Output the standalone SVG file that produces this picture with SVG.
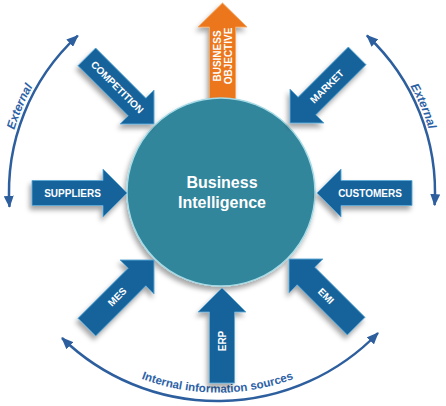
<svg xmlns="http://www.w3.org/2000/svg" xmlns:xlink="http://www.w3.org/1999/xlink" width="446" height="406" viewBox="0 0 446 406">
<style>
.arr{fill:#12649C;stroke:#5FA8D6;stroke-width:0.9;stroke-linejoin:miter}
.org{fill:#EC761E;stroke:#F6A65E;stroke-width:0.9}
.lbl{font-family:"Liberation Sans",Arial,sans-serif;font-weight:bold;font-size:10px;fill:#fff;text-anchor:middle}
.arc{fill:none;stroke:#2D5E9E;stroke-width:2.5;marker-start:url(#ah);marker-end:url(#ah)}
.side{font-family:"Liberation Sans",Arial,sans-serif;font-weight:bold;fill:#2D62A6}
</style>
<defs>
<filter id="sh" x="-40%" y="-40%" width="180%" height="180%">
<feDropShadow dx="-2" dy="4" stdDeviation="2.5" flood-color="#000" flood-opacity="0.35"/>
</filter>
<polygon id="blue" points="0,0 -24,-24 -24,-12.5 -95,-12.5 -95,12.5 -24,12.5 -24,24"/>
<polygon id="orange" points="0,0 -24,-24.5 -24,-13 -100,-13 -100,13 -24,13 -24,24.5"/>
<marker id="ah" viewBox="0 0 12 10" refX="11" refY="5" markerWidth="12" markerHeight="10" markerUnits="userSpaceOnUse" orient="auto-start-reverse">
<path d="M0,0 L12,5 L0,10 z" fill="#2D5E9E"/>
</marker>
<path id="tpL" d="M 9.7,236.9 A 217 217 0 0 1 106.5,8.8"/>
<path id="tpR" d="M 336,8 A 217 217 0 0 1 433.3,237.1"/>
<path id="tpB" d="M 65.5,329.7 A 215 215 0 0 0 369.5,329.7"/>
</defs>
<rect width="446" height="406" fill="#fff"/>

<g id="connectors">
<path class="arc" d="M 9.5,206.8 A 212 212 0 0 1 77.8,35.7"/>
<path class="arc" d="M 366.9,35.5 A 214 214 0 0 1 434.6,205.1"/>
<path class="arc" d="M 62,338 A 223.3 223.3 0 0 0 378,333"/>
<text class="side" font-size="12" font-style="italic"><textPath href="#tpL" startOffset="50%" text-anchor="middle">External</textPath></text>
<text class="side" font-size="12" font-style="italic"><textPath href="#tpR" startOffset="50%" text-anchor="middle">External</textPath></text>
<text class="side" font-size="11.5"><textPath href="#tpB" startOffset="50%" text-anchor="middle">Internal information sources</textPath></text>
</g>

<g id="objective">
<g filter="url(#sh)"><use href="#orange" class="org" transform="translate(222.5,3) rotate(-90)"/></g>
<text class="lbl" transform="translate(217.5,56) rotate(-90)" dy="0.35em">BUSINESS</text>
<text class="lbl" transform="translate(228.5,56) rotate(-90)" dy="0.35em">OBJECTIVE</text>
</g>

<g id="bi">
<circle cx="221" cy="192" r="94" fill="#30869B" stroke="#A6DAE6" stroke-width="1.5" filter="url(#sh)"/>
<text x="222" y="188" font-family="Liberation Sans,Arial,sans-serif" font-weight="bold" font-size="16" fill="#fff" text-anchor="middle">Business</text>
<text x="222" y="208" font-family="Liberation Sans,Arial,sans-serif" font-weight="bold" font-size="16" fill="#fff" text-anchor="middle">Intelligence</text>
</g>

<g id="competition">
<g filter="url(#sh)"><use href="#blue" class="arr" transform="translate(154,124) rotate(45)"/></g>
<text class="lbl" transform="translate(117.2,87.2) rotate(45)" dy="0.35em">COMPETITION</text>
</g>
<g id="market">
<g filter="url(#sh)"><use href="#blue" class="arr" transform="translate(290,123) rotate(135)"/></g>
<text class="lbl" transform="translate(327,86.5) rotate(-45)" dy="0.35em">MARKET</text>
</g>
<g id="suppliers">
<g filter="url(#sh)"><use href="#blue" class="arr" transform="translate(127,193)"/></g>
<text class="lbl" transform="translate(72.5,193)" dy="0.35em">SUPPLIERS</text>
</g>
<g id="customers">
<g filter="url(#sh)"><use href="#blue" class="arr" transform="translate(317,193) rotate(180)"/></g>
<text class="lbl" transform="translate(370,193)" dy="0.35em">CUSTOMERS</text>
</g>
<g id="mes">
<g filter="url(#sh)"><use href="#blue" class="arr" transform="translate(154,260) rotate(-45)"/></g>
<text class="lbl" transform="translate(117.2,296.8) rotate(-45)" dy="0.35em">MES</text>
</g>
<g id="emi">
<g filter="url(#sh)"><use href="#blue" class="arr" transform="translate(289,259) rotate(-135)"/></g>
<text class="lbl" transform="translate(326,296) rotate(45)" dy="0.35em">EMI</text>
</g>
<g id="erp">
<g filter="url(#sh)"><use href="#blue" class="arr" transform="translate(222,288) rotate(-90)"/></g>
<text class="lbl" transform="translate(222,341) rotate(-90)" dy="0.35em">ERP</text>
</g>
</svg>
